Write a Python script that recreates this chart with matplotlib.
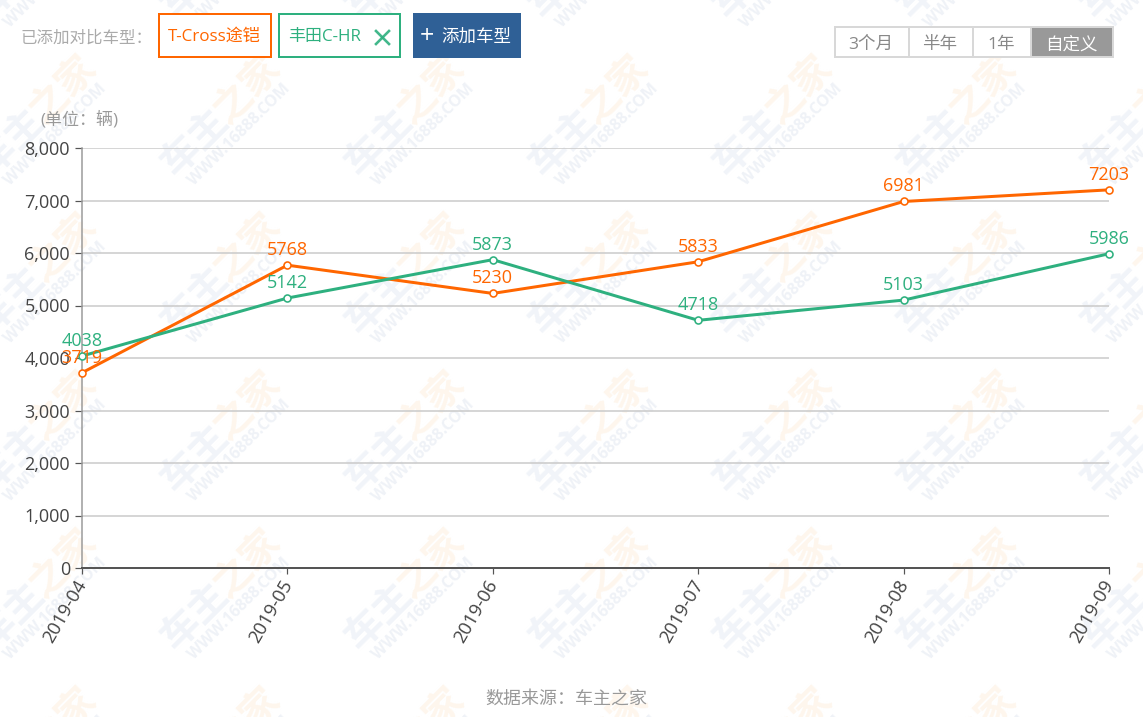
import matplotlib
matplotlib.use("Agg")
import matplotlib.pyplot as plt
from matplotlib.patches import Rectangle
from matplotlib.transforms import ScaledTranslation

FONT = ['Open Sans', 'Noto Sans CJK SC', 'DejaVu Sans']
plt.rcParams['font.family'] = FONT

months = ['2019-04', '2019-05', '2019-06', '2019-07', '2019-08', '2019-09']
tcross = [3719, 5768, 5230, 5833, 6981, 7203]
chr_vals = [4038, 5142, 5873, 4718, 5103, 5986]
yticks = [0, 1000, 2000, 3000, 4000, 5000, 6000, 7000, 8000]
range_tabs = ['3个月', '半年', '1年', '自定义']

ORANGE = '#ff6600'
GREEN = '#2eb07f'
W, H = 1143, 717
px = 72 / 100

fig = plt.figure(figsize=(W / 100, H / 100), dpi=100, facecolor='white')

# pixel-space background layer
bg = fig.add_axes([0, 0, 1, 1], zorder=0)
bg.set_xlim(0, W); bg.set_ylim(H, 0); bg.axis('off')

for cx in range(-146, 1200, 184):
    for cy in range(-44, 760, 158):
        bg.text(cx - 28, cy + 28, '车主', fontsize=39 * px, color='#f1f4f9', rotation=45,
                ha='center', va='center', fontweight='bold', rotation_mode='anchor',
                family='Noto Sans CJK SC', clip_on=True)
        bg.text(cx + 26, cy - 24, '之家', fontsize=39 * px, color='#fef6ed', rotation=45,
                ha='center', va='center', fontweight='bold', rotation_mode='anchor',
                family='Noto Sans CJK SC', clip_on=True)
        bg.text(cx + 18, cy + 21, 'WWW.16888.COM', fontsize=16 * px, color='#eff2f7', rotation=45,
                ha='center', va='center', fontweight='bold', rotation_mode='anchor',
                family='Open Sans', clip_on=True)

# chart
ax = fig.add_axes([82 / W, 1 - 568 / H, (1109 - 82) / W, (568 - 148) / H], zorder=1)
ax.patch.set_alpha(0)
ax.plot(months, tcross, color=ORANGE, lw=3 * px, zorder=3, clip_on=False,
        marker='o', ms=7 * px, mfc='white', mec=ORANGE, mew=1.6 * px)
ax.plot(months, chr_vals, color=GREEN, lw=3 * px, zorder=4, clip_on=False,
        marker='o', ms=7 * px, mfc='white', mec=GREEN, mew=1.6 * px)
ax.set_xlim(0, len(months) - 1)
ax.set_ylim(0, 8000)
ax.set_yticks(yticks)
ax.set_yticklabels([f'{v:,}' for v in yticks], fontsize=18 * px, color='#444444')
ax.grid(axis='y', color='#cccccc', lw=1.6 * px)
ax.set_axisbelow(True)
for s in ('top', 'right'):
    ax.spines[s].set_visible(False)
ax.spines['left'].set_color('#999999'); ax.spines['left'].set_linewidth(1.5 * px)
ax.spines['bottom'].set_color('#555555'); ax.spines['bottom'].set_linewidth(2 * px)
ax.tick_params(axis='y', length=7 * px, width=1.2 * px, color='#555555', pad=5 * px)
ax.tick_params(axis='x', length=6 * px, width=1.2 * px, color='#555555', pad=3 * px)
shift = ScaledTranslation(-7 / 100, 0, fig.dpi_scale_trans)
for lab in ax.get_xticklabels():
    lab.set(rotation=60, ha='right', va='top', rotation_mode='anchor', fontsize=18.5 * px, color='#444444')
    lab.set_transform(lab.get_transform() + shift)

for i, v in enumerate(tcross):
    ax.annotate(str(v), (i, v), xytext=(0, 6 * px), textcoords='offset points', ha='center',
                va='bottom', fontsize=18 * px, color=ORANGE, zorder=5, annotation_clip=False)
for i, v in enumerate(chr_vals):
    ax.annotate(str(v), (i, v), xytext=(0, 6 * px), textcoords='offset points', ha='center',
                va='bottom', fontsize=18 * px, color=GREEN, zorder=6, annotation_clip=False)

# pixel-space overlay for page controls
ui = fig.add_axes([0, 0, 1, 1], zorder=2)
ui.set_xlim(0, W); ui.set_ylim(H, 0); ui.axis('off')

ui.text(21, 39, '已添加对比车型：', fontsize=16.5 * px, color='#aaaaaa', va='center')
ui.text(40, 120, '(单位：辆)', fontsize=17 * px, color='#999999', va='center')
ui.add_patch(Rectangle((159, 14), 112, 43, fc='white', ec=ORANGE, lw=2 * px))
ui.text(214, 37, 'T-Cross途铠', fontsize=17 * px, color=ORANGE, ha='center', va='center')
ui.add_patch(Rectangle((279, 14), 121, 43, fc='white', ec=GREEN, lw=2 * px))
ui.text(288, 37, '丰田C-HR', fontsize=17 * px, color=GREEN, ha='left', va='center')
ui.plot([376, 389], [31, 44], color=GREEN, lw=2.6 * px, alpha=.9)
ui.plot([389, 376], [31, 44], color=GREEN, lw=2.6 * px, alpha=.9)
ui.add_patch(Rectangle((413, 13), 108, 45, fc='#2f6096', ec='none'))
ui.text(427, 37, '+', fontsize=25 * px, color='white', ha='center', va='center')
ui.text(476, 38, '添加车型', fontsize=17.5 * px, color='white', ha='center', va='center')

tab_edges = [835, 909, 973, 1031, 1113]
for i, lab in enumerate(range_tabs):
    sel = i == len(range_tabs) - 1
    ui.add_patch(Rectangle((tab_edges[i], 27), tab_edges[i + 1] - tab_edges[i], 30,
                           fc='#999999' if sel else 'white', ec='#d8d8d8', lw=2 * px))
    ui.text((tab_edges[i] + tab_edges[i + 1]) / 2 - 1, 45, lab, fontsize=17.5 * px,
            color='white' if sel else '#888888', ha='center', va='center')

ui.text(566, 699, '数据来源：车主之家', fontsize=18 * px, color='#999999', ha='center', va='center')

fig.savefig('out.png', dpi=100, facecolor='white')
